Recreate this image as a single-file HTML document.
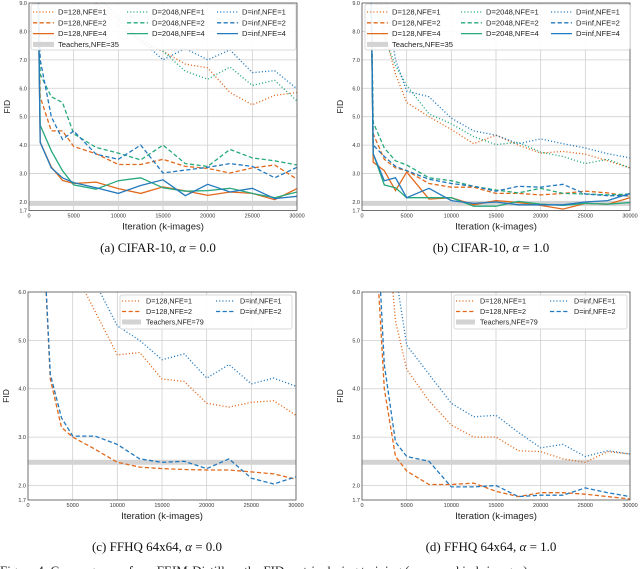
<!DOCTYPE html>
<html><head><meta charset="utf-8">
<style>
body{margin:0;background:#fff;width:640px;height:569px;overflow:hidden;font-family:"Liberation Sans",sans-serif}
svg{position:absolute;left:0;top:0}
</style></head>
<body>
<svg id="fig" width="640" height="569" viewBox="0 0 640 569"></svg>
<script>
// ---- data ----
const xTop = [1000,1250,2500,3750,5000,7500,10000,12500,15000,17500,20000,22500,25000,27500,30000];
const xBot = [1250,2500,3750,5000,7500,10000,12500,15000,17500,20000,22500,25000,27500,30000];
const yTicksTop = [1.7,2.0,3.0,4.0,5.0,6.0,7.0,8.0,9.0];
const yTicksBot = [1.7,2.0,3.0,4.0,5.0,6.0];
const xTicks = [0,5000,10000,15000,20000,25000,30000];
// chart a (CIFAR-10, alpha 0)
const a128n1 = [16,15,13,11,10,9.0,8.4,7.6,7.3,6.85,6.72,5.85,5.42,5.75,5.85];
const a128n2 = [10,5.7,4.5,4.5,3.95,3.7,3.32,3.32,3.5,3.25,3.18,3.02,3.2,3.3,2.8];
const a128n4 = [10,4.1,3.23,2.76,2.65,2.7,2.47,2.3,2.53,2.39,2.23,2.35,2.3,2.08,2.47];
const a2048n1 = [16,15,13,11,10,8.9,8.2,7.7,7.3,6.6,6.32,6.75,6.1,6.28,5.55];
const a2048n2 = [10,6.5,5.7,5.5,4.4,3.92,3.72,3.48,4.0,3.35,3.25,3.85,3.55,3.45,3.3];
const a2048n4 = [10,4.7,3.8,3.1,2.6,2.45,2.75,2.85,2.5,2.38,2.4,2.48,2.3,2.15,2.35];
const ainfn1 = [16,15,13,11,10.5,9.3,8.5,7.7,7.0,7.4,7.0,7.35,6.55,6.62,5.98];
const ainfn2 = [10,7.0,5.0,4.2,4.5,3.68,3.5,4.0,3.02,3.12,3.22,3.35,3.25,2.85,3.22];
const ainfn4 = [10,4.1,3.2,2.85,2.68,2.5,2.3,2.58,2.78,2.22,2.62,2.35,2.48,2.12,2.2];
// chart b (CIFAR-10, alpha 1)
const b128n1 = [14,11,8.0,6.5,5.5,5.0,4.55,4.05,4.35,4.0,3.72,3.78,3.68,3.45,3.2];
const b128n2 = [10,4.4,3.5,3.2,3.1,2.65,2.52,2.52,2.3,2.3,2.25,2.3,2.38,2.32,2.2];
const b128n4 = [10,3.4,3.1,2.4,3.05,2.1,2.15,1.9,2.05,1.98,1.88,1.75,1.95,1.92,2.15];
const b2048n1 = [13,9.5,7.8,6.8,6.1,5.1,4.75,4.3,4.02,4.1,3.75,3.6,3.35,3.5,3.2];
const b2048n2 = [10,4.8,3.9,3.45,3.3,2.85,2.75,2.55,2.42,2.32,2.48,2.3,2.28,2.25,2.28];
const b2048n4 = [10,3.7,2.6,2.5,2.15,2.15,2.15,1.85,1.85,2.02,1.92,1.88,1.95,1.92,1.98];
const binfn1 = [14,12,9.5,7.0,5.9,5.7,4.95,4.5,4.35,4.05,4.22,4.05,3.9,3.7,3.55];
const binfn2 = [10,4.0,3.6,3.25,3.1,2.8,2.65,2.55,2.38,2.55,2.52,2.62,2.28,2.22,2.22];
const binfn4 = [10,3.7,2.75,2.85,2.15,2.48,2.05,1.95,2.0,1.9,1.9,1.9,2.0,2.05,2.3];
// chart c (FFHQ, alpha 0)
const c128n1 = [12,10,8,6.5,5.6,4.7,4.75,4.2,4.15,3.7,3.62,3.72,3.75,3.45];
const c128n2 = [9,4.2,3.2,3.0,2.75,2.48,2.38,2.35,2.33,2.32,2.32,2.28,2.24,2.13];
const cinfn1 = [13,11,9,7,6.2,5.3,5.0,4.6,4.72,4.22,4.5,4.1,4.22,4.05];
const cinfn2 = [9,4.3,3.4,3.02,3.02,2.85,2.55,2.48,2.5,2.35,2.55,2.15,2.03,2.18];
// chart d (FFHQ, alpha 1)
const d128n1 = [11,8,5.4,4.4,3.75,3.25,3.0,3.0,2.72,2.7,2.55,2.48,2.7,2.65];
const d128n2 = [8,4.0,2.6,2.3,2.02,2.02,2.05,1.88,1.77,1.85,1.85,1.82,1.77,1.72];
const dinfn1 = [12,9,6.4,4.9,4.3,3.7,3.42,3.45,3.1,2.78,2.85,2.6,2.72,2.65];
const dinfn2 = [9,4.5,2.9,2.6,2.5,1.97,1.97,2.0,1.77,1.8,1.8,1.95,1.85,1.77];
const teacherTop = 1.95, teacherBot = 2.48;

// ---- drawing ----
const NS="http://www.w3.org/2000/svg";
const svg=document.getElementById('fig');
const OR="#e2691c", GR="#26a97c", BL="#2379bd";
const DOT="1.1 2.1", DASH="4.2 2.4";
function mk(tag,attrs,parent){const e=document.createElementNS(NS,tag);for(const k in attrs)e.setAttribute(k,attrs[k]);(parent||svg).appendChild(e);return e;}
let clipId=0;
function chart(o){
  const g=mk('g',{});
  
  
  const sx=v=>o.x0+(v/30000)*(o.x1-o.x0);
  const sy=v=>o.yb+(v-o.ymin)*(o.yt-o.yb)/(o.ymax-o.ymin);
  // grid
  xTicks.forEach(t=>{
    const l=mk('line',{x1:sx(t),x2:sx(t),y1:o.yt,y2:o.yb,stroke:"#cfcfcf","stroke-width":0.8},g);
    
    
    const tx=mk('text',{x:sx(t),y:o.yb+7,"font-size":5.5,"text-anchor":"middle",fill:"#333"},g);
    tx.textContent=t;
    
    
  });
  o.yticks.forEach(t=>{
    const l=mk('line',{x1:o.x0,x2:o.x1,y1:sy(t),y2:sy(t),stroke:"#cfcfcf","stroke-width":0.8},g);
    
    
    const tx=mk('text',{x:o.x0-2,y:sy(t)+2,"font-size":5.5,"text-anchor":"end",fill:"#333"},g);
    tx.textContent=t.toFixed(1);
    
    
  });
  // teacher band
  const band=mk('rect',{x:o.x0,width:o.x1-o.x0,y:sy(o.teacher)-2.5,height:5,fill:"#d3d3d3"},g);
  
  
  const cid='c'+(clipId++);
  const cp=mk('clipPath',{id:cid},g);
  mk('rect',{x:o.x0,y:o.yt,width:o.x1-o.x0,height:o.yb-o.yt},cp);
  const lg=mk('g',{"clip-path":`url(#${cid})`},g);
  o.series.forEach(s=>{
    const d=s.v.map((v,i)=>(i?'L':'M')+sx(o.xs[i]).toFixed(1)+','+sy(v).toFixed(1)).join('');
    const p=mk('path',{d:d,fill:"none",stroke:s.c,"stroke-width":1.3,"stroke-dasharray":s.dash||"none"},lg);
    
    
  });
  // frame
  mk('rect',{x:o.x0,y:o.yt,width:o.x1-o.x0,height:o.yb-o.yt,fill:"none",stroke:"#555","stroke-width":0.8},g);
  // labels
  const xl=mk('text',{x:(o.x0+o.x1)/2,y:o.yb+19,"font-size":9.5,"text-anchor":"middle",fill:"#222"},g);
  xl.textContent="Iteration (k-images)";
  
  
  const yc=(o.yt+o.yb)/2;
  const yl=mk('text',{x:o.x0-19,y:yc,"font-size":8.5,"text-anchor":"middle",fill:"#222",transform:`rotate(-90 ${o.x0-19} ${yc})`},g);
  yl.textContent="FID";
  
  
  // legend
  const L=o.leg;
  const lgd=mk('g',{},g);
  
  
  mk('rect',{x:L.x,y:L.y,width:L.w,height:L.h,rx:2,fill:"rgba(255,255,255,0.9)",stroke:"#ccc","stroke-width":0.7},lgd);
  L.items.forEach(it=>{
    const cx=L.x+L.cols[it.col], cy=L.y+L.r0+it.row*L.dy;
    if(it.band) mk('rect',{x:cx,y:cy-2.5,width:L.lw,height:5,fill:"#d3d3d3"},lgd);
    else mk('line',{x1:cx,x2:cx+L.lw,y1:cy,y2:cy,stroke:it.c,"stroke-width":1.3,"stroke-dasharray":it.dash||"none"},lgd);
    const t=mk('text',{x:cx+L.lw+L.gap,y:cy+2.5,"font-size":L.fs,fill:"#222"},lgd);
    t.textContent=it.t;
    
    
  });
  // caption
  const cap=mk('text',{x:(o.x0+o.x1)/2-5,y:o.capY,"font-size":13,"text-anchor":"middle",fill:"#111","font-family":"Liberation Serif, serif"},g);
  cap.innerHTML=o.cap;
  
  
}
const topItems=[
 {t:"D=128,NFE=1",c:OR,dash:DOT,col:0,row:0},{t:"D=128,NFE=2",c:OR,dash:DASH,col:0,row:1},{t:"D=128,NFE=4",c:OR,col:0,row:2},{t:"Teachers,NFE=35",band:1,col:0,row:3},
 {t:"D=2048,NFE=1",c:GR,dash:DOT,col:1,row:0},{t:"D=2048,NFE=2",c:GR,dash:DASH,col:1,row:1},{t:"D=2048,NFE=4",c:GR,col:1,row:2},
 {t:"D=inf,NFE=1",c:BL,dash:DOT,col:2,row:0},{t:"D=inf,NFE=2",c:BL,dash:DASH,col:2,row:1},{t:"D=inf,NFE=4",c:BL,col:2,row:2}];
const botItems=[
 {t:"D=128,NFE=1",c:OR,dash:DOT,col:0,row:0},{t:"D=128,NFE=2",c:OR,dash:DASH,col:0,row:1},{t:"Teachers,NFE=79",band:1,col:0,row:2},
 {t:"D=inf,NFE=1",c:BL,dash:DOT,col:1,row:0},{t:"D=inf,NFE=2",c:BL,dash:DASH,col:1,row:1}];
function topSeries(p){return [
 {n:'d128-nfe1',v:p[0],c:OR,dash:DOT},{n:'d128-nfe2',v:p[1],c:OR,dash:DASH},{n:'d128-nfe4',v:p[2],c:OR},
 {n:'d2048-nfe1',v:p[3],c:GR,dash:DOT},{n:'d2048-nfe2',v:p[4],c:GR,dash:DASH},{n:'d2048-nfe4',v:p[5],c:GR},
 {n:'dinf-nfe1',v:p[6],c:BL,dash:DOT},{n:'dinf-nfe2',v:p[7],c:BL,dash:DASH},{n:'dinf-nfe4',v:p[8],c:BL}];}
function botSeries(p){return [
 {n:'d128-nfe1',v:p[0],c:OR,dash:DOT},{n:'d128-nfe2',v:p[1],c:OR,dash:DASH},
 {n:'dinf-nfe1',v:p[2],c:BL,dash:DOT},{n:'dinf-nfe2',v:p[3],c:BL,dash:DASH}];}
chart({name:'chart-cifar-alpha0',x0:29,x1:297,yt:3,yb:210.5,ymin:1.7,ymax:9,yticks:yTicksTop,xs:xTop,teacher:teacherTop,capY:252,
 cap:'(a) CIFAR-10, <tspan font-style="italic">α</tspan> = 0.0',
 series:topSeries([a128n1,a128n2,a128n4,a2048n1,a2048n2,a2048n4,ainfn1,ainfn2,ainfn4]),
 leg:{x:31,y:4,w:265,h:46,r0:8,dy:10.8,cols:[2,96,186],lw:21,gap:4,fs:7.6,items:topItems}});
chart({name:'chart-cifar-alpha1',x0:362,x1:630,yt:3,yb:210.5,ymin:1.7,ymax:9,yticks:yTicksTop,xs:xTop,teacher:teacherTop,capY:252,
 cap:'(b) CIFAR-10, <tspan font-style="italic">α</tspan> = 1.0',
 series:topSeries([b128n1,b128n2,b128n4,b2048n1,b2048n2,b2048n4,binfn1,binfn2,binfn4]),
 leg:{x:365,y:4,w:265,h:46,r0:8,dy:10.8,cols:[2,96,186],lw:21,gap:4,fs:7.6,items:topItems}});
chart({name:'chart-ffhq-alpha0',x0:28,x1:296,yt:292,yb:500,ymin:1.7,ymax:6,yticks:yTicksBot,xs:xBot,teacher:teacherBot,capY:551,
 cap:'(c) FFHQ 64x64, <tspan font-style="italic">α</tspan> = 0.0',
 series:botSeries([c128n1,c128n2,cinfn1,cinfn2]),
 leg:{x:120,y:295,w:172,h:34,r0:6,dy:10.5,cols:[2,96],lw:19,gap:5,fs:7.2,items:botItems}});
chart({name:'chart-ffhq-alpha1',x0:362,x1:630,yt:292,yb:500,ymin:1.7,ymax:6,yticks:yTicksBot,xs:xBot,teacher:teacherBot,capY:551,
 cap:'(d) FFHQ 64x64, <tspan font-style="italic">α</tspan> = 1.0',
 series:botSeries([d128n1,d128n2,dinfn1,dinfn2]),
 leg:{x:454,y:295,w:173,h:34,r0:6,dy:10.5,cols:[2,96],lw:19,gap:5,fs:7.2,items:botItems}});
const fc=mk('text',{x:0,y:575,"font-size":13,fill:"#222","font-family":"Liberation Serif, serif"});
fc.textContent="Figure 4: Convergence of our FEIM-Distill on the FID metric during training (measured in k-images)";


</script>
</body></html>
